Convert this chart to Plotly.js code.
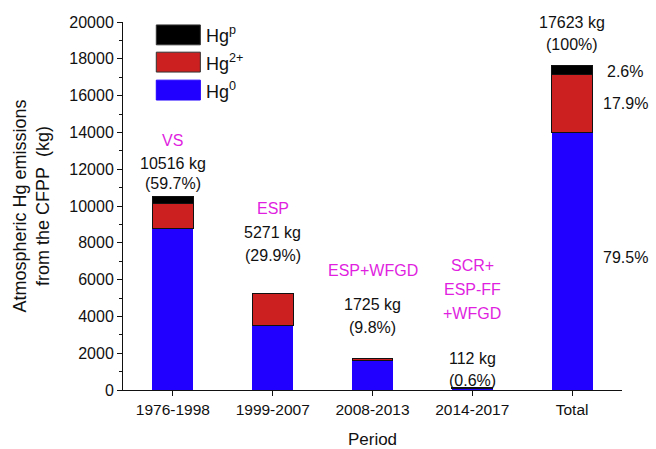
<!DOCTYPE html>
<html><head><meta charset="utf-8">
<script src="https://cdn.plot.ly/plotly-3.0.1.min.js"></script>
<style>html,body{margin:0;padding:0;background:#fff}#chart{width:656px;height:449px}</style>
</head><body><div id="chart"></div>
<script>
// ---- data ----
const periods = ["1976-1998", "1999-2007", "2008-2013", "2014-2017", "Total"];
const hg0 = [8800, 3500, 1590, 100, 14010];
const hg2 = [1316, 1720, 110, 10, 3154];
const hgp = [400, 51, 25, 2, 459];
const totalLabels = ["10516 kg", "5271 kg", "1725 kg", "112 kg", "17623 kg"];
const shareLabels = ["(59.7%)", "(29.9%)", "(9.8%)", "(0.6%)", "(100%)"];
const controls = [["VS"], ["ESP"], ["ESP+WFGD"], ["SCR+", "ESP-FF", "+WFGD"]];
const speciesShare = ["79.5%", "17.9%", "2.6%"];
const seriesNames = ["Hg<sup>0</sup>", "Hg<sup>2+</sup>", "Hg<sup>p</sup>"];
const seriesColors = ["#2200ff", "#cc1f1f", "#000000"];

// ---- traces ----
const seriesValues = [hg0, hg2, hgp];
const traces = seriesValues.map((vals, i) => ({
  type: "bar", x: periods, y: vals, name: seriesNames[i],
  marker: { color: seriesColors[i], line: { color: i === 0 ? seriesColors[0] : "#111", width: i === 0 ? 0 : 1 } },
  showlegend: false, hoverinfo: "x+y"
}));

const FONT = "Liberation Sans, Arial, sans-serif";
const ann = [];
// label anchor positions (data-y for text placement)
const ctrlY = [13533, 9891, 6520, 6793];
const totY = [12337, 8587, 4620, 1739, 19946];
const shareY = [11196, 7283, 3380, 543, 18804];
controls.forEach((lines, i) => lines.forEach((t, k) => ann.push({ x: periods[i], y: ctrlY[i], yshift: -24 * k,
  text: t, showarrow: false, font: { family: FONT, size: 16, color: "#e01fe0" }, xanchor: "center", yanchor: "middle" })));
totalLabels.forEach((t, i) => ann.push({ x: periods[i], y: totY[i], text: t, showarrow: false,
  font: { family: FONT, size: 16, color: "#111" }, xanchor: "center", yanchor: "middle" }));
shareLabels.forEach((t, i) => ann.push({ x: periods[i], y: shareY[i], text: t, showarrow: false,
  font: { family: FONT, size: 16, color: "#111" }, xanchor: "center", yanchor: "middle" }));
const spY = [7228, 15598, 17283];
speciesShare.forEach((t, i) => ann.push({ x: periods[4], y: spY[i], text: t, showarrow: false, xshift: 53,
  font: { family: FONT, size: 16, color: "#111" }, xanchor: "center", yanchor: "middle" }));

// custom legend (boxes + labels)
const shapes = [];
const legTop = [0.992, 0.918, 0.842];
[2, 1, 0].forEach((si, row) => {
  shapes.push({ type: "rect", xref: "paper", yref: "paper", x0: 0.0667, x1: 0.155,
    y0: legTop[row] - 0.054, y1: legTop[row], fillcolor: seriesColors[si],
    line: { color: si === 0 ? seriesColors[0] : "#333", width: 1 } });
  ann.push({ xref: "paper", yref: "paper", x: 0.163, y: legTop[row] - 0.027, text: seriesNames[si],
    showarrow: false, xanchor: "left", yanchor: "middle", font: { family: FONT, size: 18, color: "#111" } });
});

const layout = {
  width: 656, height: 449,
  margin: { l: 123, r: 34, t: 22, b: 59 },
  paper_bgcolor: "#fff", plot_bgcolor: "#fff",
  barmode: "stack", bargap: 0.59,
  font: { family: FONT, color: "#111" },
  xaxis: {
    type: "category", range: [-0.5, 4.5], showline: true, linecolor: "#111", linewidth: 1,
    ticks: "outside", ticklen: 5, tickcolor: "#111", showgrid: false, zeroline: false,
    tickfont: { family: FONT, size: 15.5, color: "#111" },
    title: { text: "Period", font: { family: FONT, size: 17, color: "#111" }, standoff: 18 }
  },
  yaxis: {
    range: [0, 20000], dtick: 2000, tickformat: "d", showline: true, linecolor: "#111", linewidth: 1,
    ticks: "outside", ticklen: 5, tickcolor: "#111", showgrid: false, zeroline: false,
    minor: { dtick: 1000, ticks: "outside", ticklen: 3, tickcolor: "#111", showgrid: false },
    tickfont: { family: FONT, size: 16, color: "#111" },
    title: { text: "Atmospheric Hg emissions<br>from the CFPP\u00a0\u00a0(kg)", font: { family: FONT, size: 18, color: "#111" }, standoff: 14 }
  },
  annotations: ann, shapes: shapes, showlegend: false
};
Plotly.newPlot("chart", traces, layout, { displayModeBar: false, staticPlot: true });
</script></body></html>
